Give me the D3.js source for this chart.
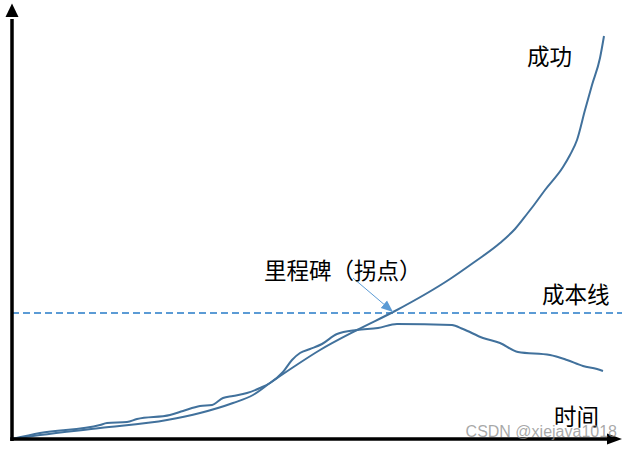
<!DOCTYPE html>
<html><head><meta charset="utf-8">
<script src="https://cdn.jsdelivr.net/npm/d3@7"></script>
<style>body{margin:0;background:#fff}svg{display:block}</style>
</head><body>
<script>
// time / value data (abstract units)
const successTime  = [0,28,88,155,188,221,241,258,283,308,345,383,438,461,488,503,515,522,533,551,558,565,573,580,588,592];
const successValue = [0,4,11,19,26,36,44,56,73,89,109,128,160,176,196,210,225,234,249,272,284,299,329,354,381,403];
const failTime  = [0,28,88,95,115,125,158,171,188,200,211,221,235,248,258,271,280,288,298,310,325,345,366,385,440,451,471,488,506,538,555,571,585,591];
const failValue = [0,6,14,16,17,20,24,28,33,34,41,43,46,51,56,67,79,86,90,95,105,109,111,115,114,110,101,96,87,84,79,73,70,68];
const costValue = 126;
const milestoneFrom = [341,161];
const milestoneTo = [381,127];
const labels = ["成功","里程碑（拐点）","成本线","时间"];
const watermark = "CSDN @xiejava1018";

const W = 632, H = 450;
const x = d3.scaleLinear().domain([0,610]).range([12,622]);
const y = d3.scaleLinear().domain([0,435]).range([439,4]);

const svg = d3.select("body").append("svg").attr("width",W).attr("height",H);
const defs = svg.append("defs");
defs.append("marker").attr("id","ah").attr("viewBox","0 0 10 10").attr("refX",10).attr("refY",5)
  .attr("markerWidth",12).attr("markerHeight",12).attr("markerUnits","userSpaceOnUse").attr("orient","auto")
  .append("path").attr("d","M0,1 L10,5 L0,9 Z").attr("fill","#5B9BD5");

const curveColor = "#41719C";
const line = d3.line().x(d=>x(d[0])).y(d=>y(d[1])).curve(d3.curveMonotoneX);

// cost line
svg.append("line").attr("x1",x(0)).attr("x2",x(610)).attr("y1",y(costValue)).attr("y2",y(costValue))
  .attr("stroke","#5B9BD5").attr("stroke-width",1.8).attr("stroke-dasharray","7,4");

svg.append("path").datum(failTime.map((t,i)=>[t,failValue[i]])).attr("d",line)
  .attr("fill","none").attr("stroke",curveColor).attr("stroke-width",2);
svg.append("path").datum(successTime.map((t,i)=>[t,successValue[i]])).attr("d",line)
  .attr("fill","none").attr("stroke",curveColor).attr("stroke-width",2);

// annotation arrow
svg.append("line").attr("x1",x(milestoneFrom[0])).attr("y1",y(milestoneFrom[1]))
  .attr("x2",x(milestoneTo[0])).attr("y2",y(milestoneTo[1]))
  .attr("stroke","#5B9BD5").attr("stroke-width",1).attr("marker-end","url(#ah)");

// axes
const ax = svg.append("g");
ax.append("line").attr("x1",x(0)).attr("x2",x(0)).attr("y1",y(0)+2).attr("y2",y(420)).attr("stroke","#000").attr("stroke-width",3.5);
ax.append("path").attr("d",`M${x(0)},${y(435)-0.5} L${x(0)-6.5},${y(422)} L${x(0)+6.5},${y(422)} Z`).attr("fill","#000");
ax.append("line").attr("x1",x(0)-1.75).attr("x2",x(597)).attr("y1",y(0)).attr("y2",y(0)).attr("stroke","#000").attr("stroke-width",3.5);
ax.append("path").attr("d",`M${x(610)},${y(0)} L${x(595)},${y(0)-5.5} L${x(595)},${y(0)+5.5} Z`).attr("fill","#000");

const font = "'Noto Sans CJK SC', sans-serif";
const txt = (s,px,py,size)=>svg.append("text").attr("x",px).attr("y",py).text(s)
  .attr("font-family",font).attr("font-size",size).attr("fill","#000");
txt(labels[0], x(515), y(374), 22.5);
txt(labels[1], x(252), y(160), 22.5);
txt(labels[2], x(530), y(136), 22.5);
txt(labels[3], x(542), y(14), 22.5);

svg.append("text").attr("x",x(605)).attr("y",y(2)).attr("text-anchor","end").text(watermark)
  .attr("font-family","'Liberation Sans', Arial, sans-serif").attr("font-size",16).attr("fill","rgba(140,140,140,0.75)");
</script>
</body></html>
